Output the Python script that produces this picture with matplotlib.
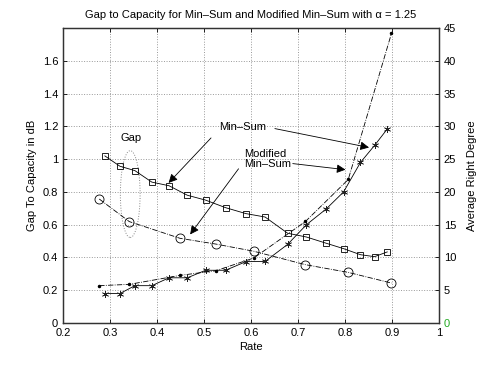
import numpy as np
import matplotlib
matplotlib.use('Agg')
import matplotlib.pyplot as plt
from matplotlib.patches import Ellipse

plt.rcParams['font.family'] = ['Liberation Sans', 'DejaVu Sans']
plt.rcParams['font.size'] = 8

# gap to capacity, min-sum (squares)
rate_ms = [0.289, 0.321, 0.353, 0.389, 0.4255, 0.4645, 0.5035, 0.546, 0.589,
           0.63, 0.678, 0.718, 0.76, 0.797, 0.833, 0.863, 0.89]
gap_ms = [1.02, 0.957, 0.93, 0.86, 0.838, 0.78, 0.75, 0.704, 0.668,
          0.647, 0.548, 0.525, 0.487, 0.454, 0.417, 0.405, 0.434]
# average right degree, min-sum (asterisks)
deg_ms = [4.5, 4.5, 5.7, 5.7, 6.9, 6.9, 8.05, 8.05, 9.36,
          9.4, 12.0, 15.0, 17.4, 20.0, 24.5, 27.1, 29.6]

# modified min-sum (circles) and its degree (dots)
rate_mod = [0.277, 0.341, 0.449, 0.525, 0.606, 0.716, 0.807, 0.899]
gap_mod = [0.757, 0.619, 0.517, 0.482, 0.438, 0.356, 0.309, 0.244]
deg_mod = [5.7, 5.9, 7.27, 7.98, 9.92, 15.5, 21.9, 44.2]

fig = plt.figure(figsize=(4.85, 3.65), dpi=100)
ax = fig.add_axes([0.130, 0.115, 0.775, 0.808])
ax2 = ax.twinx()

ax.plot(rate_ms, gap_ms, '-', color='k', lw=0.6, marker='s', ms=5,
        mfc='none', mec='k', mew=0.6)
ax.plot(rate_mod, gap_mod, '-.', color='k', lw=0.6, marker='o', ms=6.5,
        mfc='none', mec='k', mew=0.6)
ax2.plot(rate_ms, deg_ms, '-', color='k', lw=0.6, marker=(6, 2, 0), ms=5,
         mec='#222222', mew=0.5)
ax2.plot(rate_mod, deg_mod, '-.', color='k', lw=0.6, marker='.', ms=3)

ax.set_xlim(0.2, 1)
ax.set_ylim(0, 1.8)
ax2.set_ylim(0, 45)
xt = np.arange(0.2, 1.01, 0.1)
ax.set_xticks(xt)
ax.set_xticklabels(['0.2', '0.3', '0.4', '0.5', '0.6', '0.7', '0.8', '0.9', '1'])
yt = np.arange(0, 1.61, 0.2)
ax.set_yticks(yt)
ax.set_yticklabels(['0', '0.2', '0.4', '0.6', '0.8', '1', '1.2', '1.4', '1.6'])
ax2.set_yticks(np.arange(0, 46, 5))
ax2.get_yticklabels()[0].set_color('#22aa22')

ax.grid(True, linestyle=':', color='#999999', lw=0.7)
for a in (ax, ax2):
    a.tick_params(direction='in', length=3, width=0.6, labelsize=8)
    for s in a.spines.values():
        s.set_linewidth(0.9)
        s.set_color('#333333')
ax.tick_params(top=True)

ax.set_xlabel('Rate', fontsize=8, labelpad=3)
ax.set_ylabel('Gap To Capacity in dB', fontsize=8)
ax2.set_ylabel('Average Right Degree', fontsize=8, labelpad=8)
ax.set_title('Gap to Capacity for Min\u2013Sum and Modified Min\u2013Sum with \u03b1 = 1.25',
             fontsize=8, pad=7)

# annotations
ax.add_patch(Ellipse((0.343, 0.787), 0.042, 0.53, fill=False, ls=':',
                     color='#888888', lw=0.7))
ax.text(0.344, 1.128, 'Gap', ha='center', va='center', fontsize=8)

arrow = dict(arrowstyle='-|>', color='k', lw=0.6, mutation_scale=13)
ax.text(0.583, 1.199, 'Min\u2013Sum', ha='center', va='center', fontsize=8)
ax.annotate('', xy=(0.4206, 0.843), xytext=(0.519, 1.142), arrowprops=arrow)
ax.annotate('', xy=(0.857, 1.068), xytext=(0.645, 1.19), arrowprops=arrow)

ax.text(0.585, 1.0, 'Modified\nMin\u2013Sum', ha='left', va='center',
        fontsize=8, linespacing=1.0)
ax.annotate('', xy=(0.807, 0.934), xytext=(0.683, 0.975), arrowprops=arrow)
ax.annotate('', xy=(0.467, 0.527), xytext=(0.577, 0.955), arrowprops=arrow)

fig.savefig('out.png', dpi=100)
